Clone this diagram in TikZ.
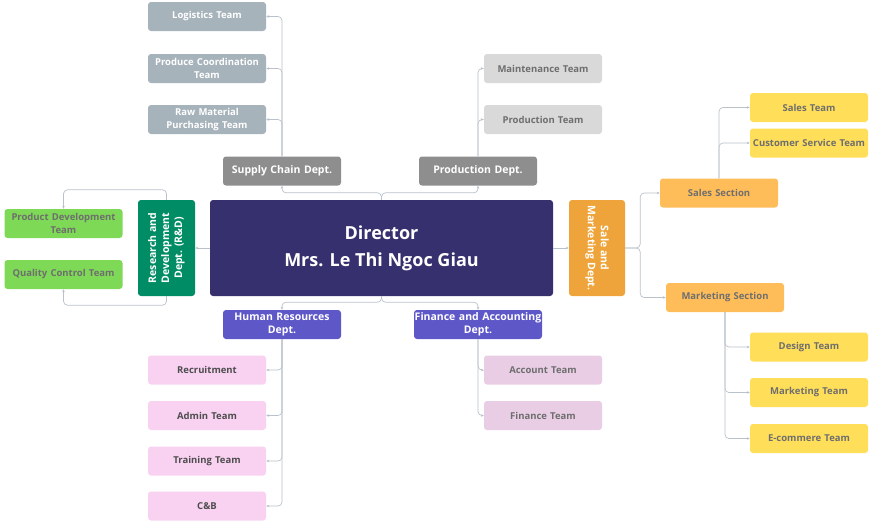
\documentclass[tikz,border=0pt]{standalone}
\usepackage{fontspec}
\setmainfont{Open Sans}
\usetikzlibrary{arrows.meta}

\definecolor{slate}{HTML}{A7B3BB}
\definecolor{deptgray}{HTML}{8E8E8E}
\definecolor{lightgray}{HTML}{D9D9D9}
\definecolor{navy}{HTML}{37306F}
\definecolor{rdgreen}{HTML}{008C64}
\definecolor{lightgreen}{HTML}{7ED957}
\definecolor{deptorange}{HTML}{EEA43A}
\definecolor{section}{HTML}{FFBD59}
\definecolor{yellowbox}{HTML}{FFDE59}
\definecolor{deptpurple}{HTML}{5E57C8}
\definecolor{pinkbox}{HTML}{F9D2F2}
\definecolor{mauvebox}{HTML}{E8CDE4}
\definecolor{linecol}{HTML}{B9C2CA}
\definecolor{greytext}{HTML}{6E6E6E}
\definecolor{darktext}{HTML}{4D4D4D}

\begin{document}
\begin{tikzpicture}[x=1pt, y=-1pt,
  every node/.style={font=\fontsize{9.5}{12.5}\selectfont\bfseries, align=center, rounded corners=3pt, inner xsep=1pt, inner ysep=2pt},
  box/.style={minimum width=118pt, minimum height=29pt, text width=116pt},
  slatebox/.style={box, fill=slate, text=white},
  graydept/.style={box, fill=deptgray, text=white, font=\fontsize{10.5}{13}\selectfont\bfseries},
  lightbox/.style={box, fill=lightgray, text=greytext},
  greenbox/.style={box, fill=lightgreen, text=greytext},
  sectionbox/.style={box, fill=section, text=greytext},
  yellow/.style={box, fill=yellowbox, text=greytext},
  purpledept/.style={box, fill=deptpurple, text=white, font=\fontsize{10.5}{12.5}\selectfont\bfseries},
  pink/.style={box, fill=pinkbox, text=darktext},
  mauve/.style={box, fill=mauvebox, text=greytext},
  link/.style={draw=linecol, line width=0.7pt, rounded corners=4pt, -{Stealth[length=3pt,width=2.6pt]}}]

  \useasboundingbox (0,0) rectangle (869,525);

  % Director
  \node[fill=navy, text=white, minimum width=343pt, minimum height=96pt,
        font=\fontsize{18}{27}\selectfont\bfseries] (dir) at (381.5,248) {Director\\Mrs. Le Thi Ngoc Giau};

  % --- supply chain ---
  \node[graydept] (sc) at (282,171) {Supply Chain Dept.};
  \node[slatebox] (log) at (207,16.5)  {Logistics Team};
  \node[slatebox] (pco) at (207,68.5)  {Produce Coordination\\Team};
  \node[slatebox] (raw) at (207,119.5) {Raw Material\\Purchasing Team};

  % --- production ---
  \node[graydept] (prd) at (478,171) {Production Dept.};
  \node[lightbox] (mnt) at (543,68.5)  {Maintenance Team};
  \node[lightbox] (prt) at (543,119.5) {Production Team};

  % --- research and development ---
  \node[rotate=90, fill=rdgreen, text=white, minimum width=96pt, minimum height=57pt,
        font=\fontsize{10.5}{13}\selectfont\bfseries] (rd) at (166.5,248) {Research and\\Development\\Dept. (R\&D)};
  \node[greenbox] (pdt) at (63.5,223.5) {Product Development\\Team};
  \node[greenbox] (qct) at (63.5,274.5) {Quality Control Team};

  % --- sale and marketing ---
  \node[rotate=-90, fill=deptorange, text=white, minimum width=96pt, minimum height=56pt,
        font=\fontsize{10.5}{13}\selectfont\bfseries] (sm) at (597,248) {Sale and\\Marketing Dept.};
  \node[sectionbox] (ss) at (719,193)   {Sales Section};
  \node[sectionbox] (ms) at (725,297.5) {Marketing Section};
  \node[yellow] (slt) at (809,107.5) {Sales Team};
  \node[yellow] (cst) at (809,143)   {Customer Service Team};
  \node[yellow] (dst) at (809,347)   {Design Team};
  \node[yellow] (mkt) at (809,392.5) {Marketing Team};
  \node[yellow] (ect) at (809,438.5) {E-commere Team};

  % --- human resources ---
  \node[purpledept] (hr) at (282,324.5) {Human Resources\\Dept.};
  \node[pink] (rec) at (207,370)   {Recruitment};
  \node[pink] (adm) at (207,415.5) {Admin Team};
  \node[pink] (trn) at (207,461)   {Training Team};
  \node[pink] (cb)  at (207,506)   {C\&B};

  % --- finance ---
  \node[purpledept, minimum width=128pt, text width=128pt, inner xsep=0pt] (fa) at (478,324.5) {Finance and Accounting\\Dept.};
  \node[mauve] (act) at (543,370)   {Account Team};
  \node[mauve] (fnt) at (543,415.5) {Finance Team};

  % --- connectors ---
  \draw[link] (dir.north) -- ++(0,-7) -| (sc.south);
  \draw[link] (dir.north) -- ++(0,-7) -| (prd.south);
  \draw[link] (dir.south) -- ++(0,6) -| (hr.north);
  \draw[link] (dir.south) -- ++(0,6) -| (fa.north);
  \draw[link] (dir.west) -- (rd.south);
  \draw[link] (dir.east) -- (sm.south);

  \foreach \t in {log,pco,raw}
    \draw[link] (sc.north) |- (\t.east);
  \foreach \t in {mnt,prt}
    \draw[link] (prd.north) |- (\t.west);
  \foreach \t in {rec,adm,trn,cb}
    \draw[link] (hr.south) |- (\t.east);
  \foreach \t in {act,fnt}
    \draw[link] (fa.south) |- (\t.west);

  \draw[link] (rd.east) -- ++(0,-10) -| (pdt.north);
  \draw[link] (rd.west) -- ++(0,9) -| (qct.south);

  \draw[link] (sm.north) -- ++(15,0) |- (ss.west);
  \draw[link] (sm.north) -- ++(15,0) |- (ms.west);
  \foreach \t in {slt,cst}
    \draw[link] (ss.north) |- (\t.west);
  \foreach \t in {dst,mkt,ect}
    \draw[link] (ms.south) |- (\t.west);

\end{tikzpicture}
\end{document}
